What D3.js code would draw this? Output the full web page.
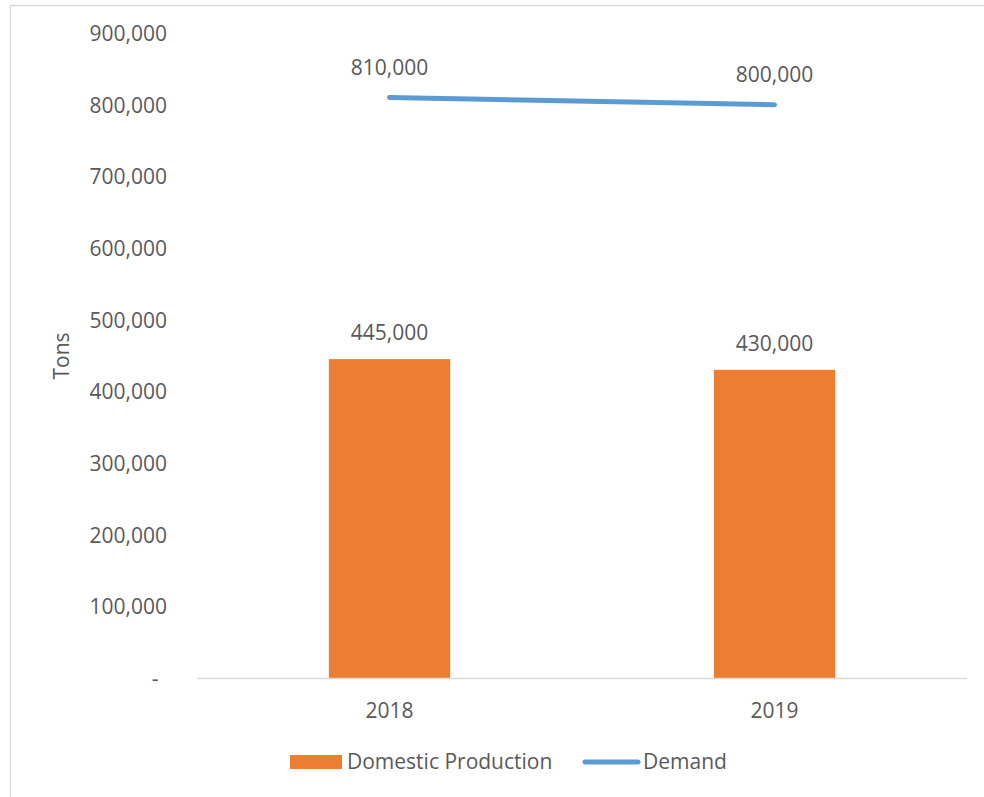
<!DOCTYPE html>
<html>
<head>
<meta charset="utf-8">
<script src="https://cdn.jsdelivr.net/npm/d3@7"></script>
<style>
  body { margin: 0; background: #fff; }
  svg text { font-family: "Open Sans", "Noto Sans", sans-serif; fill: #595959; }
</style>
</head>
<body>
<div id="chart"></div>
<script>
var years = ["2018", "2019"];
var production = [445000, 430000];
var demand = [810000, 800000];
var yTicks = [0, 100000, 200000, 300000, 400000, 500000, 600000, 700000, 800000, 900000];

var W = 984, H = 797;
var FS = 21;
var margin = {top: 33, right: 17, bottom: 119, left: 197};
var width = W - margin.left - margin.right,
    height = H - margin.top - margin.bottom;

var svg = d3.select("#chart").append("svg")
    .attr("width", W)
    .attr("height", H);

// chart frame
svg.append("path")
    .attr("d", "M10.5," + (H + 2) + "V5.5H" + (W + 2))
    .attr("fill", "none")
    .attr("stroke", "#d9d9d9")
    .attr("stroke-width", 1.5);

var g = svg.append("g")
    .attr("transform", "translate(" + margin.left + "," + margin.top + ")");

var x = d3.scaleBand().domain(years).range([0, width]).paddingInner(0).paddingOuter(0);
var y = d3.scaleLinear().domain([0, 900000]).range([height, 0]);
var fmt = d3.format(",");

// y axis labels
g.append("g")
    .attr("class", "yAxis")
    .attr("transform", "translate(-30,0)")
    .call(d3.axisLeft(y).tickValues(yTicks).tickSize(0).tickPadding(0)
        .tickFormat(function(d){ return d === 0 ? "-" : fmt(d); }))
    .call(function(a){ a.select(".domain").remove(); })
    .selectAll("text")
    .attr("font-size", FS)
    .attr("fill", "#595959")
    .attr("dy", "0.35em")
    .attr("font-family", "Open Sans")
    .filter(function(d){ return d === 0; })
    .attr("text-anchor", "middle")
    .attr("dx", -12);

// bars
var bw = x.bandwidth() * 0.315;
g.selectAll(".bar")
    .data(years)
    .enter().append("rect")
    .attr("class", "bar")
    .attr("x", function(d){ return x(d) + x.bandwidth() / 2 - bw / 2; })
    .attr("y", function(d, i){ return y(production[i]); })
    .attr("width", bw)
    .attr("height", function(d, i){ return height - y(production[i]); })
    .attr("fill", "#ed7d31");

// x axis
g.append("line")
    .attr("x1", 0).attr("x2", width)
    .attr("y1", height + 0.5).attr("y2", height + 0.5)
    .attr("stroke", "#d9d9d9")
    .attr("stroke-width", 1.5);

g.selectAll(".xLabel")
    .data(years)
    .enter().append("text")
    .attr("class", "xLabel")
    .attr("x", function(d){ return x(d) + x.bandwidth() / 2; })
    .attr("y", height + 33)
    .attr("dy", "0.35em")
    .attr("text-anchor", "middle")
    .attr("font-size", FS)
    .text(function(d){ return d; });

// demand line
var line = d3.line()
    .x(function(d, i){ return x(years[i]) + x.bandwidth() / 2; })
    .y(function(d){ return y(d); });

g.append("path")
    .datum(demand)
    .attr("d", line)
    .attr("fill", "none")
    .attr("stroke", "#5b9bd5")
    .attr("stroke-width", 5)
    .attr("stroke-linecap", "round");

// data labels
g.selectAll(".barLabel")
    .data(production)
    .enter().append("text")
    .attr("class", "barLabel")
    .attr("x", function(d, i){ return x(years[i]) + x.bandwidth() / 2; })
    .attr("y", function(d){ return y(d) - 26; })
    .attr("dy", "0.35em")
    .attr("text-anchor", "middle")
    .attr("font-size", FS)
    .text(function(d){ return fmt(d); });

g.selectAll(".lineLabel")
    .data(demand)
    .enter().append("text")
    .attr("class", "lineLabel")
    .attr("x", function(d, i){ return x(years[i]) + x.bandwidth() / 2; })
    .attr("y", function(d){ return y(d) - 30; })
    .attr("dy", "0.35em")
    .attr("text-anchor", "middle")
    .attr("font-size", FS)
    .text(function(d){ return fmt(d); });

// y title
svg.append("text")
    .attr("transform", "translate(62,356) rotate(-90)")
    .attr("dy", "0.35em")
    .attr("text-anchor", "middle")
    .attr("font-size", FS)
    .text("Tons");

// legend
var lg = svg.append("g").attr("class", "legend");
lg.append("rect")
    .attr("x", 290).attr("y", 755)
    .attr("width", 52).attr("height", 14)
    .attr("fill", "#ed7d31");
lg.append("text")
    .attr("x", 347).attr("y", 762)
    .attr("dy", "0.35em")
    .attr("font-size", FS)
    .text("Domestic Production");
lg.append("line")
    .attr("x1", 585).attr("x2", 638)
    .attr("y1", 762).attr("y2", 762)
    .attr("stroke", "#5b9bd5")
    .attr("stroke-width", 5)
    .attr("stroke-linecap", "round");
lg.append("text")
    .attr("x", 643).attr("y", 762)
    .attr("dy", "0.35em")
    .attr("font-size", FS)
    .text("Demand");
</script>
</body>
</html>
